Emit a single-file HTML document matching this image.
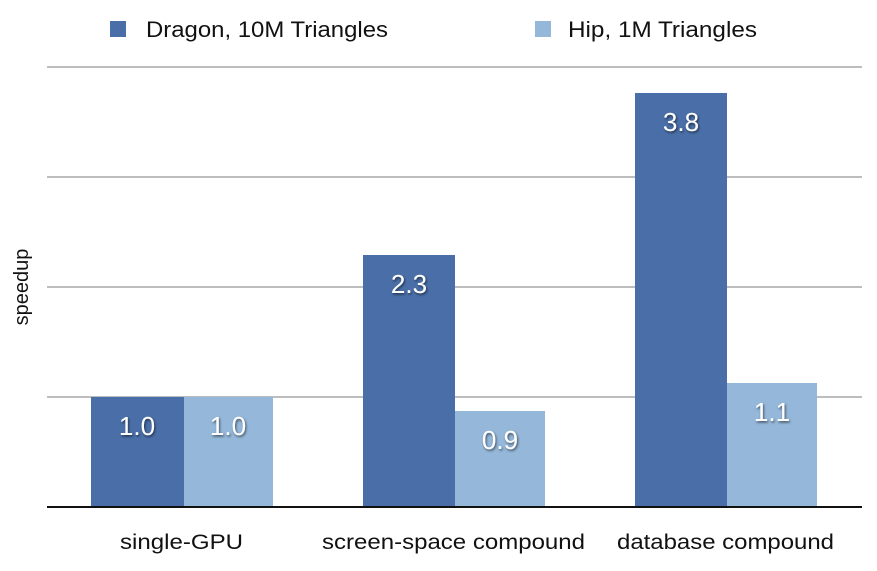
<!DOCTYPE html>
<html><head><meta charset="utf-8"><style>
body{margin:0;background:#fff}
svg text{font-family:"Liberation Sans",Arial,sans-serif}
</style></head><body>
<svg width="877" height="566" xmlns="http://www.w3.org/2000/svg">
<defs><filter id="s" x="-20%" y="-20%" width="140%" height="140%"><feDropShadow dx="1" dy="1.5" stdDeviation="1.2" flood-color="#000" flood-opacity="0.6"/></filter></defs>
<rect width="877" height="566" fill="#fff"/>
<g stroke="#bdbdbd" stroke-width="2">
<line x1="47" x2="862" y1="67" y2="67"/>
<line x1="47" x2="862" y1="177" y2="177"/>
<line x1="47" x2="862" y1="287" y2="287"/>
<line x1="47" x2="862" y1="397" y2="397"/>
</g>
<g fill="#4a6fa8">
<rect x="91" y="397" width="93" height="110"/>
<rect x="363" y="255" width="92" height="252"/>
<rect x="635" y="93" width="92" height="414"/>
</g>
<g fill="#95b8da">
<rect x="184" y="397" width="89" height="110"/>
<rect x="455" y="411" width="90" height="96"/>
<rect x="727" y="383" width="90" height="124"/>
</g>
<line x1="47" x2="862" y1="507" y2="507" stroke="#111" stroke-width="2"/>
<g fill="#fff" font-size="26" text-anchor="middle" filter="url(#s)">
<text x="137" y="435">1.0</text>
<text x="228" y="435">1.0</text>
<text x="409" y="293">2.3</text>
<text x="500" y="449">0.9</text>
<text x="681" y="131">3.8</text>
<text x="772" y="421">1.1</text>
</g>
<g fill="#111" font-size="21">
<text x="120" y="549" textLength="123" lengthAdjust="spacingAndGlyphs">single-GPU</text>
<text x="322" y="549" textLength="263" lengthAdjust="spacingAndGlyphs">screen-space compound</text>
<text x="617" y="549" textLength="217" lengthAdjust="spacingAndGlyphs">database compound</text>
</g>
<text transform="translate(28,287) rotate(-90)" font-size="20" text-anchor="middle" fill="#111">speedup</text>
<rect x="110" y="21" width="16" height="16" fill="#4a6fa8"/>
<text x="146" y="37" font-size="22" fill="#111" textLength="242" lengthAdjust="spacingAndGlyphs">Dragon, 10M Triangles</text>
<rect x="535" y="21" width="16" height="16" fill="#95b8da"/>
<text x="568" y="37" font-size="22" fill="#111" textLength="189" lengthAdjust="spacingAndGlyphs">Hip, 1M Triangles</text>
</svg>
</body></html>
